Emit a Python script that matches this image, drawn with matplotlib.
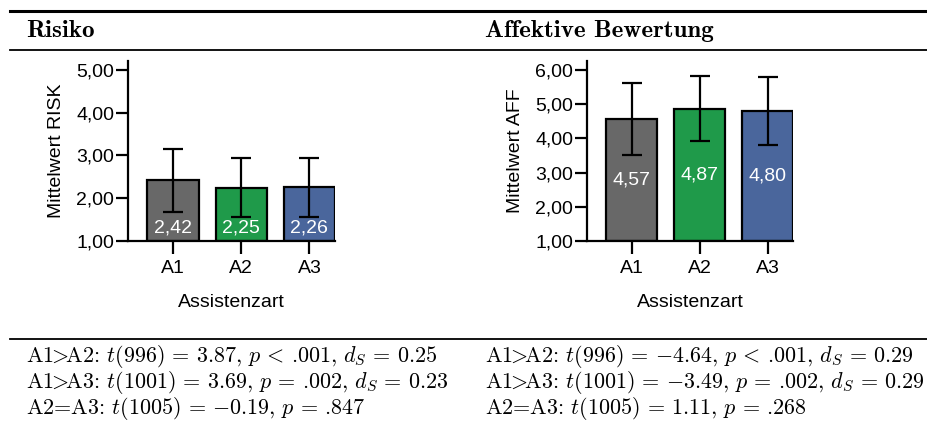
import matplotlib
matplotlib.use("Agg")
import matplotlib.pyplot as plt
from matplotlib.lines import Line2D

# data
groups = ["A1", "A2", "A3"]
risk_means = [2.42, 2.25, 2.26]
risk_sd = [0.74, 0.69, 0.69]
aff_means = [4.57, 4.87, 4.80]
aff_sd = [1.06, 0.96, 1.00]
risk_ticks = [1, 2, 3, 4, 5]
aff_ticks = [1, 2, 3, 4, 5, 6]
bar_colors = ["#686868", "#1f9a4a", "#4a669c"]

# '.001' kept outside math so mathtext does not add punctuation space
risk_stats = [
    r"A1$\!\!>\!\!$A2: $t(996) \,=\, 3.87,\, p \,<\,$.001$,\, d_S \,=\, 0.25$",
    r"A1$\!\!>\!\!$A3: $t(1001) \,=\, 3.69,\, p \,=\,$.002$,\, d_S \,=\, 0.23$",
    r"A2=A3: $t(1005) \,=\, {-0.19},\, p \,=\,$.847",
]
aff_stats = [
    r"A1$\!\!>\!\!$A2: $t(996) \,=\, {-4.64},\, p \,<\,$.001$,\, d_S \,=\, 0.29$",
    r"A1$\!\!>\!\!$A3: $t(1001) \,=\, {-3.49},\, p \,=\,$.002$,\, d_S \,=\, 0.29$",
    r"A2=A3: $t(1005) \,=\, 1.11,\, p \,=\,$.268",
]

plt.rcParams["mathtext.fontset"] = "cm"
plt.rcParams["font.family"] = ["Liberation Sans", "DejaVu Sans"]

W, H = 928, 424
fig = plt.figure(figsize=(W / 100, H / 100), dpi=100)


def fx(x):
    return x / W


def fy(y):
    return 1 - y / H


# table rules
for y, lw in [(11, 2.2), (50, 1.3), (339, 1.3)]:
    fig.add_artist(Line2D([fx(10), 1], [fy(y), fy(y)], color="black", lw=lw,
                          transform=fig.transFigure))

fig.text(fx(26), fy(31), "Risiko", family="cmb10", fontsize=18, va="center")
fig.text(fx(485), fy(31), "Affektive Bewertung", family="cmb10", fontsize=18, va="center")


def bar_panel(left, right, means, sds, ymax, ticks, ylabel, label_mode):
    ax = fig.add_axes([fx(left), fy(241), fx(right - left), fy(61) - fy(241)])
    x = range(len(groups))
    ax.bar(x, [m - 1 for m in means], bottom=1, width=0.75, color=bar_colors,
           edgecolor="black", linewidth=1.6, zorder=2)
    ax.errorbar(x, means, yerr=sds, fmt="none", ecolor="black", elinewidth=1.6,
                capsize=7, capthick=1.6, zorder=3)
    for i, m in enumerate(means):
        ly = 1.31 if label_mode == "bottom" else (m + 1) / 2
        ax.text(i, ly, f"{m:.2f}".replace(".", ","), color="white", fontsize=14,
                ha="center", va="center", zorder=4)
    ax.set_xlim(-0.66, 2.375)
    ax.set_ylim(1, ymax)
    ax.set_yticks(ticks)
    ax.set_yticklabels([f"{t:.2f}".replace(".", ",") for t in ticks])
    ax.set_xticks(list(x))
    ax.set_xticklabels(groups)
    for s in ["top", "right"]:
        ax.spines[s].set_visible(False)
    for s in ["left", "bottom"]:
        ax.spines[s].set_linewidth(1.6)
    ax.tick_params(length=9, width=1.6, labelsize=14, pad=1)
    ax.tick_params(axis="x", pad=5)
    ax.set_ylabel(ylabel, fontsize=14, labelpad=8)
    ax.set_xlabel("Assistenzart", fontsize=14, labelpad=12)
    return ax


bar_panel(128, 335, risk_means, risk_sd, 5.21, risk_ticks, "Mittelwert RISK", "bottom")
bar_panel(587, 793, aff_means, aff_sd, 6.26, aff_ticks, "Mittelwert AFF", "middle")

for i, (a, b) in enumerate(zip(risk_stats, aff_stats)):
    y = fy(356 + 26 * i)
    fig.text(fx(26), y, a, family="cmr10", fontsize=15.9, va="center")
    fig.text(fx(485), y, b, family="cmr10", fontsize=15.9, va="center")

fig.savefig("out.png", dpi=100)
